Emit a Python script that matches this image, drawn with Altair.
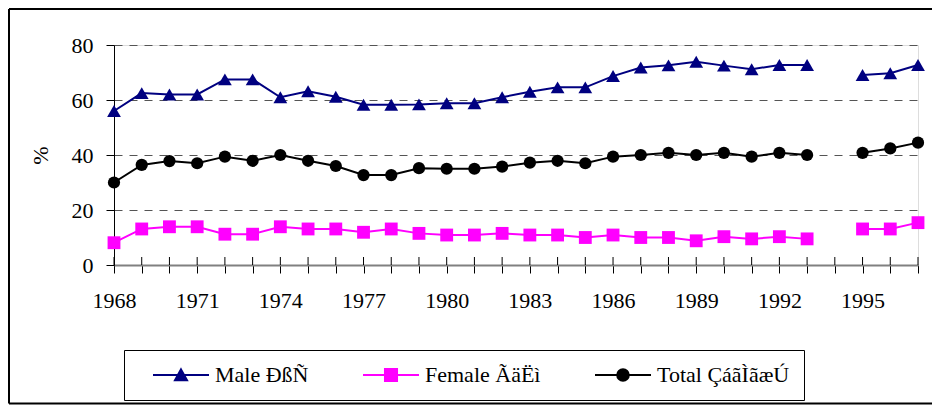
import altair as alt
import pandas as pd

# ---------------- data ----------------
years = [1968, 1969, 1970, 1971, 1972, 1973, 1974, 1975, 1976, 1977,
         1978, 1979, 1980, 1981, 1982, 1983, 1984, 1985, 1986, 1987,
         1988, 1989, 1990, 1991, 1992, 1993, 1995, 1996, 1997]
male = [56.0, 62.5, 62.0, 62.0, 67.5, 67.5, 61.0, 63.2, 61.2, 58.3,
        58.3, 58.4, 58.8, 58.8, 61.0, 63.0, 64.6, 64.6, 68.7, 71.8,
        72.6, 73.9, 72.5, 71.2, 72.7, 72.7, 69.1, 69.7, 72.7]
female = [8.1, 13.1, 13.9, 13.9, 11.2, 11.2, 13.9, 13.1, 13.1, 11.9,
          13.1, 11.5, 10.9, 10.9, 11.5, 10.9, 10.9, 10.0, 10.9, 10.0,
          10.0, 8.8, 10.3, 9.5, 10.3, 9.5, 13.1, 13.1, 15.4]
total = [30.0, 36.4, 37.8, 37.0, 39.4, 37.9, 40.0, 37.9, 36.0, 32.7,
         32.7, 35.2, 35.0, 35.0, 35.8, 37.2, 37.9, 37.0, 39.4, 40.0,
         40.8, 40.0, 40.8, 39.4, 40.8, 40.0, 40.8, 42.4, 44.5]

series_names = ["Male ÐßÑ", "Female ÃäËì", "Total ÇáãÌãæÚ"]
series_colors = ["#000080", "#FF00FF", "#000000"]
marker_shapes = ["triangle-up", "square", "circle"]
marker_sizes = [190, 165, 150]

tick_years = list(range(1968, 1998))
label_years = [1968, 1971, 1974, 1977, 1980, 1983, 1986, 1989, 1992, 1995]
y_ticks = [0, 20, 40, 60, 80]

# legend symbols: a line segment with the marker on top (custom SVG paths,
# in units of sqrt(symbolSize)/2 = 7 px)
legend_paths = [
    "M-4,0L4,0M0,-0.8L0.86,0.75L-0.86,0.75Z",
    "M-4,0L4,0M-0.86,-0.86L0.86,-0.86L0.86,0.86L-0.86,0.86Z",
    "M-4,0L4,0M0.83,0C0.83,0.46,0.46,0.83,0,0.83C-0.46,0.83,-0.83,0.46,-0.83,0"
    "C-0.83,-0.46,-0.46,-0.83,0,-0.83C0.46,-0.83,0.83,-0.46,0.83,0Z",
]

rows = []
for name, vals in zip(series_names, [male, female, total]):
    for yr, v in zip(years, vals):
        rows.append({"year": yr, "series": name, "value": v,
                     "seg": 0 if yr < 1994 else 1})
df = pd.DataFrame(rows)
ticks_df = pd.DataFrame({"year": tick_years})
one_row = pd.DataFrame({"a": [0]})

# ---------------- layout ----------------
W, H = 804, 220
PAD = {"left": 106, "top": 37, "right": 14, "bottom": 140}
FONT = "Liberation Serif"

label_expr = "indexof(" + str(label_years) + ", datum.value) >= 0 ? datum.label : ''"

x_scale = alt.Scale(domain=[1968, 1997], nice=False, zero=False)
x_axis = alt.Axis(values=tick_years, labelExpr=label_expr, format="d",
                  tickSize=8, labelPadding=17, grid=False, title=None,
                  domainColor="#808080", domainWidth=2, tickColor="#000000",
                  labelFont=FONT, labelFontSize=22, labelColor="#000000",
                  labelFlush=False, labelOverlap=False)
x_enc = alt.X("year:Q", scale=x_scale, axis=x_axis)
y_enc = alt.Y(
    "value:Q",
    scale=alt.Scale(domain=[0, 80], nice=False, zero=True),
    axis=alt.Axis(values=y_ticks, grid=True, gridDash=[8, 7], gridColor="#555555",
                  gridWidth=1, tickSize=8, tickColor="#000000", labelPadding=13,
                  domainColor="#000000", domainWidth=1,
                  labelFont=FONT, labelFontSize=22, labelColor="#000000",
                  title="%", titleFont=FONT, titleFontSize=22, titleFontWeight="normal",
                  titleColor="#000000", titleX=-74, titleY=110, titleAngle=270,
                  titleAlign="center", titleBaseline="middle"),
)

line_layers = []
point_layers = []
for name, col, shp, sz in zip(series_names, series_colors, marker_shapes, marker_sizes):
    sub = alt.Chart(df).transform_filter(alt.datum.series == name)
    line_layers.append(
        sub.mark_line(strokeWidth=2, color=col).encode(x=x_enc, y=y_enc, detail="seg:N")
    )
    point_layers.append(
        sub.mark_point(shape=shp, filled=True, size=sz, opacity=1, color=col)
        .encode(x=x_enc, y=y_enc)
    )

leg = alt.Legend(orient="none", legendX=10, legendY=305, direction="horizontal",
                 title=None, symbolSize=196, symbolStrokeWidth=2, symbolOpacity=1,
                 symbolOffset=32, labelOffset=23,
                 labelFont=FONT, labelFontSize=22, labelColor="#000000",
                 columnPadding=39, padding=14,
                 strokeColor="#000000", fillColor="#FFFFFF", labelLimit=400)

legend_layer = alt.Chart(df).mark_point(filled=True, opacity=0).encode(
    x=x_enc, y=y_enc,
    fill=alt.Fill("series:N", scale=alt.Scale(domain=series_names, range=series_colors), legend=leg),
    stroke=alt.Stroke("series:N", scale=alt.Scale(domain=series_names, range=series_colors), legend=leg),
    shape=alt.Shape("series:N", scale=alt.Scale(domain=series_names, range=legend_paths), legend=leg),
)

# upper half of the crossing x-axis tick marks
xticks_up = alt.Chart(ticks_df).mark_rule(color="#000000", strokeWidth=1).encode(
    x=x_enc, y=alt.value(H - 8), y2=alt.value(H),
)

# outer chart-area frame (left, top, bottom sides)
fl, ft, fb, fr = -105, -36, 358.5, W + PAD["right"] + 2
frame_left = alt.Chart(one_row).mark_rule(color="#000000", strokeWidth=2).encode(
    x=alt.value(fl), y=alt.value(ft), y2=alt.value(fb))
frame_top = alt.Chart(one_row).mark_rule(color="#000000", strokeWidth=2).encode(
    x=alt.value(fl), x2=alt.value(fr), y=alt.value(ft))
frame_bottom = alt.Chart(one_row).mark_rule(color="#000000", strokeWidth=2).encode(
    x=alt.value(fl), x2=alt.value(fr), y=alt.value(fb))

chart = alt.layer(
    *line_layers, *point_layers, legend_layer, xticks_up, frame_left, frame_top, frame_bottom
).properties(
    width=W, height=H, padding=PAD,
    autosize=alt.AutoSizeParams(type="none"),
).configure_view(stroke=None).configure(background="white").configure_legend(
    labelFont=FONT, labelFontSize=22, labelColor="#000000"
)

chart.save("out.html", embed_options={"renderer": "svg", "actions": False})
